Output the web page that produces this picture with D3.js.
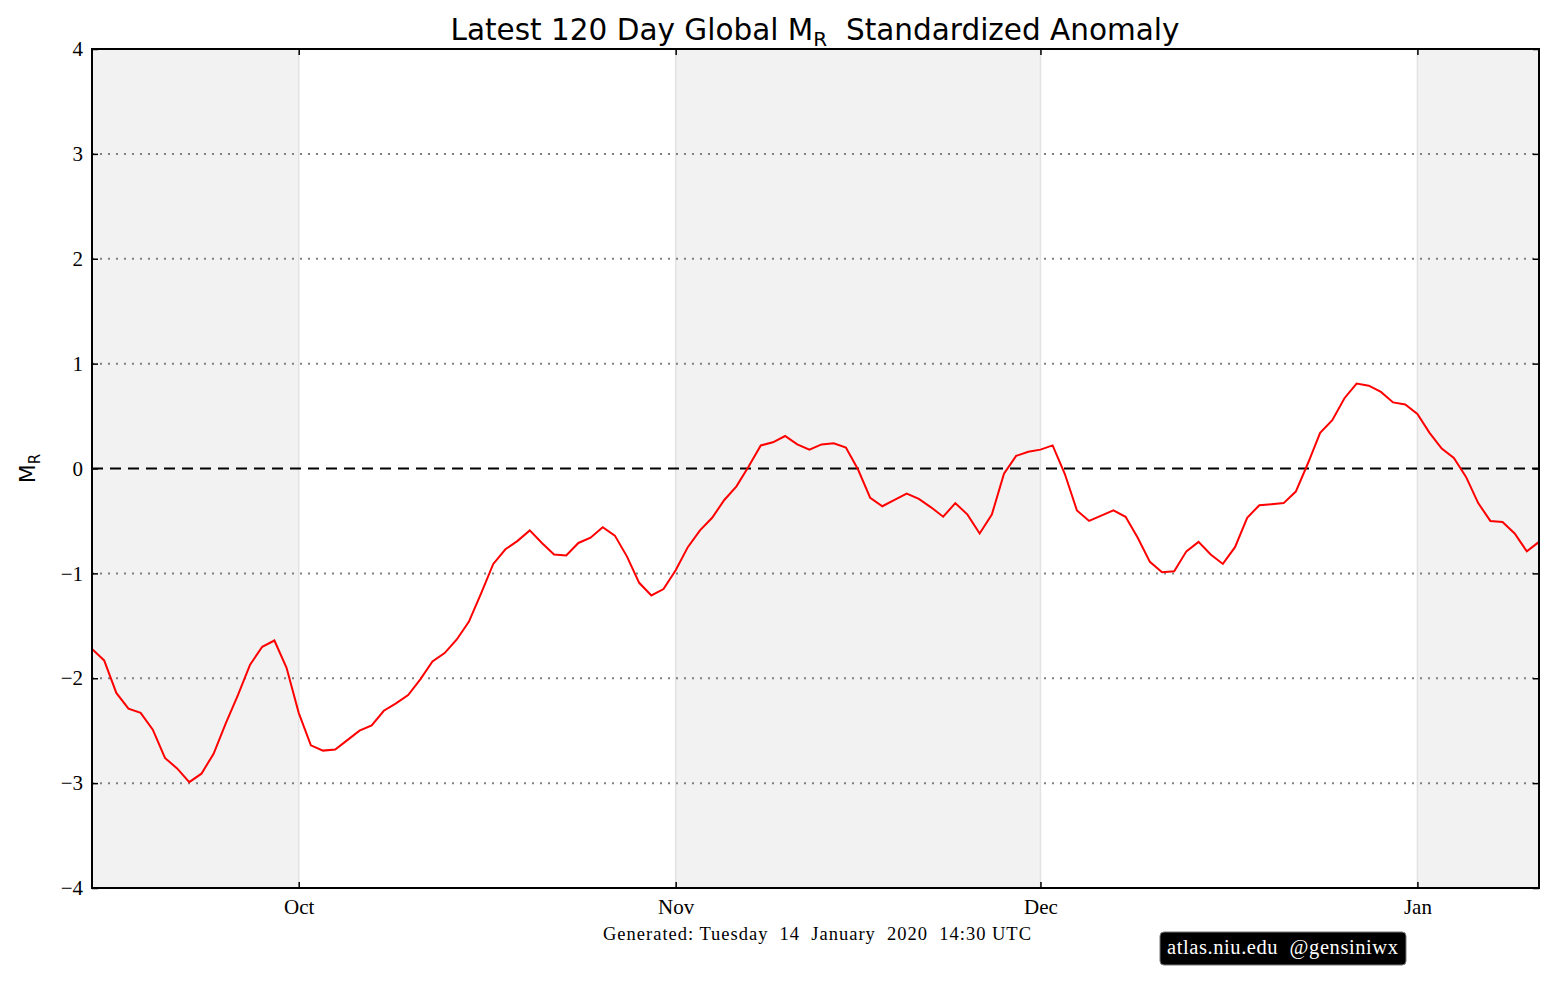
<!DOCTYPE html>
<html>
<head>
<meta charset="utf-8">
<script src="https://cdn.jsdelivr.net/npm/d3@7"></script>
<style>
  body { margin: 0; background: #fff; }
  svg { display: block; }
</style>
</head>
<body>
<svg id="chart" width="1555" height="983"></svg>
<script>
// Daily standardized anomaly, first point on startDate
const startDate = '2019-09-14';
const anomalyValues = [
  -1.72, -1.83, -2.14, -2.29, -2.33, -2.49, -2.76, -2.86, -2.99, -2.91,
  -2.72, -2.43, -2.16, -1.87, -1.70, -1.64, -1.90, -2.33, -2.64, -2.69,
  -2.68, -2.59, -2.50, -2.45, -2.31, -2.24, -2.16, -2.01, -1.84, -1.76,
  -1.63, -1.46, -1.19, -0.91, -0.77, -0.69, -0.59, -0.71, -0.82, -0.83,
  -0.71, -0.66, -0.56, -0.64, -0.84, -1.09, -1.21, -1.15, -0.97, -0.75,
  -0.59, -0.47, -0.30, -0.17, 0.02, 0.22, 0.25, 0.31, 0.23, 0.18,
  0.23, 0.24, 0.20, -0.01, -0.28, -0.36, -0.30, -0.24, -0.29, -0.37,
  -0.46, -0.33, -0.44, -0.62, -0.44, -0.05, 0.12, 0.16, 0.18, 0.22,
  -0.05, -0.40, -0.50, -0.45, -0.40, -0.46, -0.66, -0.89, -0.99, -0.98,
  -0.79, -0.70, -0.82, -0.91, -0.75, -0.47, -0.35, -0.34, -0.33, -0.22,
  0.05, 0.34, 0.46, 0.67, 0.81, 0.79, 0.73, 0.63, 0.61, 0.52,
  0.34, 0.19, 0.10, -0.08, -0.33, -0.50, -0.51, -0.62, -0.79, -0.70
];

// Month ticks and alternating month shading
const monthTicks = ['2019-10-01', '2019-11-01', '2019-12-01', '2020-01-01'];
const monthLabels = ['Oct', 'Nov', 'Dec', 'Jan'];
const shadedSpans = [
  ['2019-09-01', '2019-10-01'],
  ['2019-11-01', '2019-12-01'],
  ['2020-01-01', '2020-02-01']
];
const yTicks = [-4, -3, -2, -1, 0, 1, 2, 3, 4];

const parse = d3.utcParse('%Y-%m-%d');
const t0 = parse(startDate);
const points = anomalyValues.map((v, i) => ({ date: d3.utcDay.offset(t0, i), value: v }));

const margin = { left: 92, right: 16, top: 49, bottom: 95 };
const width = 1555, height = 983;
const svg = d3.select('#chart');

const x = d3.scaleUtc()
  .domain(d3.extent(points, d => d.date))
  .range([margin.left, width - margin.right]);
const y = d3.scaleLinear()
  .domain([-4, 4])
  .range([height - margin.bottom, margin.top]);

const plot = svg.append('g');
plot.append('clipPath').attr('id', 'clip')
  .append('rect')
  .attr('x', margin.left).attr('y', margin.top)
  .attr('width', x.range()[1] - x.range()[0])
  .attr('height', y.range()[0] - y.range()[1]);

const inner = plot.append('g').attr('clip-path', 'url(#clip)');

// Month shading
inner.selectAll('rect.span')
  .data(shadedSpans)
  .join('rect')
  .attr('class', 'span')
  .attr('x', d => x(parse(d[0])))
  .attr('width', d => x(parse(d[1])) - x(parse(d[0])))
  .attr('y', margin.top)
  .attr('height', y.range()[0] - y.range()[1])
  .attr('fill', '#f2f2f2');

inner.selectAll('line.edge')
  .data(monthTicks)
  .join('line')
  .attr('class', 'edge')
  .attr('x1', d => x(parse(d))).attr('x2', d => x(parse(d)))
  .attr('y1', margin.top).attr('y2', y.range()[0])
  .attr('stroke', '#e3e3e3')
  .attr('stroke-width', 1.5);

// Dotted grid lines
inner.selectAll('line.grid')
  .data(yTicks.filter(t => t !== 0 && Math.abs(t) < 4))
  .join('line')
  .attr('class', 'grid')
  .attr('x1', x.range()[0]).attr('x2', x.range()[1])
  .attr('y1', d => y(d)).attr('y2', d => y(d))
  .attr('stroke', '#808080')
  .attr('stroke-width', 2)
  .attr('stroke-dasharray', '2,6');

// Zero line
inner.append('line')
  .attr('x1', x.range()[0]).attr('x2', x.range()[1])
  .attr('y1', y(0)).attr('y2', y(0))
  .attr('stroke', '#000')
  .attr('stroke-width', 2)
  .attr('stroke-dasharray', '11,7');

// Anomaly line
const line = d3.line().x(d => x(d.date)).y(d => y(d.value));
inner.append('path')
  .datum(points)
  .attr('d', line)
  .attr('fill', 'none')
  .attr('stroke', '#ff0000')
  .attr('stroke-width', 2);

// Axes, ticks point inward on all four sides
const serif = '"Liberation Serif", "DejaVu Serif", serif';
const fmtY = d => (d < 0 ? '\u2212' : '') + Math.abs(d);
const tickDates = monthTicks.map(parse);

function styleAxis(g) {
  g.select('.domain').remove();
  g.selectAll('.tick line').attr('stroke', '#000').attr('stroke-width', 1.5);
  g.selectAll('.tick text').attr('font-family', serif).attr('font-size', 21).attr('fill', '#000');
}

svg.append('g')
  .attr('transform', `translate(0,${y.range()[0]})`)
  .call(d3.axisBottom(x).tickValues(tickDates).tickFormat((d, i) => monthLabels[i]).tickSizeInner(-6).tickPadding(11))
  .call(styleAxis);
svg.append('g')
  .attr('transform', `translate(0,${y.range()[1]})`)
  .call(d3.axisTop(x).tickValues(tickDates).tickFormat('').tickSizeInner(-6))
  .call(styleAxis);
svg.append('g')
  .attr('transform', `translate(${x.range()[0]},0)`)
  .call(d3.axisLeft(y).tickValues(yTicks).tickFormat(fmtY).tickSizeInner(-6).tickPadding(9))
  .call(styleAxis);
svg.append('g')
  .attr('transform', `translate(${x.range()[1]},0)`)
  .call(d3.axisRight(y).tickValues(yTicks).tickFormat('').tickSizeInner(-6))
  .call(styleAxis);

// Frame
svg.append('rect')
  .attr('x', x.range()[0]).attr('y', y.range()[1])
  .attr('width', x.range()[1] - x.range()[0])
  .attr('height', y.range()[0] - y.range()[1])
  .attr('fill', 'none')
  .attr('stroke', '#000')
  .attr('stroke-width', 2);

// Title
const sans = '"DejaVu Sans", sans-serif';
const title = svg.append('text')
  .attr('x', 815)
  .attr('y', 40)
  .attr('text-anchor', 'middle')
  .attr('font-family', sans)
  .attr('font-size', 29.5)
  .attr('fill', '#000');
title.append('tspan').text('Latest 120 Day Global M');
title.append('tspan').attr('font-size', 20).attr('dy', 6).text('R');
title.append('tspan').attr('dy', -6).text('\u00a0 Standardized Anomaly');

// Y label
const ylab = svg.append('text')
  .attr('transform', `translate(35,${y(0)}) rotate(-90)`)
  .attr('text-anchor', 'middle')
  .attr('font-family', sans)
  .attr('font-size', 22)
  .attr('fill', '#000');
ylab.append('tspan').text('M');
ylab.append('tspan').attr('font-size', 15).attr('dy', 5).text('R');

// Generated stamp
svg.append('text')
  .attr('x', 603).attr('y', 940)
  .attr('font-family', serif)
  .attr('font-size', 18.5)
  .attr('fill', '#000')
  .attr('xml:space', 'preserve')
  .attr('textLength', 428)
  .attr('lengthAdjust', 'spacing')
  .text('Generated: Tuesday  14  January  2020  14:30 UTC');

// Credit badge
const badge = svg.append('g').attr('transform', 'translate(1160,932)');
badge.append('rect')
  .attr('width', 246).attr('height', 33).attr('rx', 4)
  .attr('fill', '#000').attr('stroke', '#777').attr('stroke-width', 1);
badge.append('text')
  .attr('x', 7).attr('y', 22)
  .attr('font-family', serif)
  .attr('font-size', 20.5)
  .attr('fill', '#fff')
  .attr('xml:space', 'preserve')
  .attr('textLength', 231)
  .attr('lengthAdjust', 'spacing')
  .text('atlas.niu.edu  @gensiniwx');
</script>
</body>
</html>
